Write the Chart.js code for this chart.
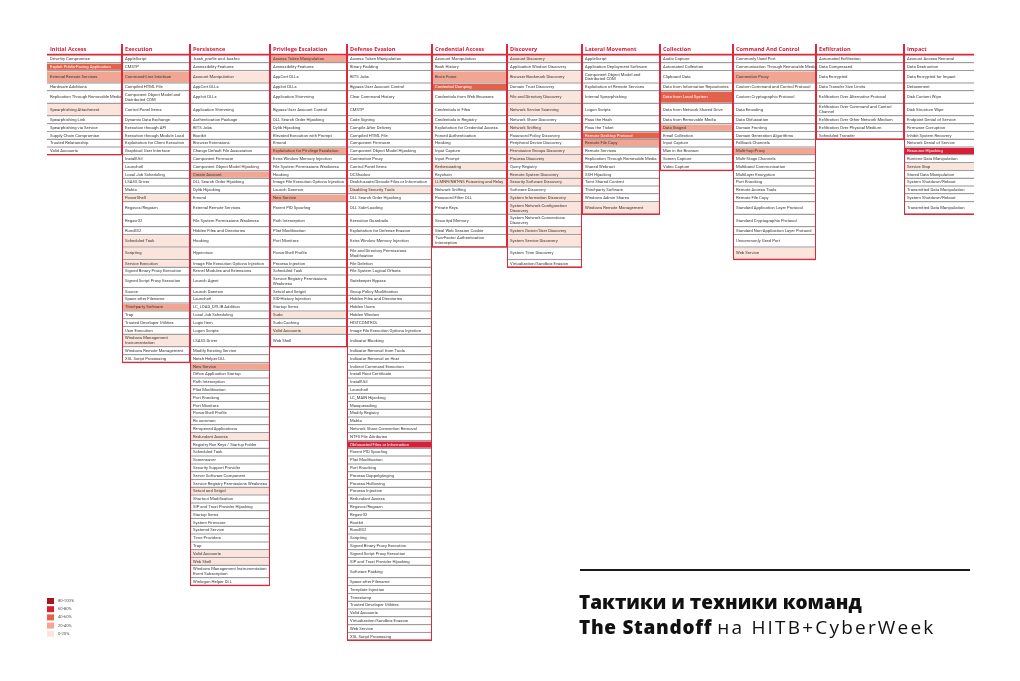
<!DOCTYPE html>
<html>
<head>
<meta charset="utf-8">
<script src="https://cdn.jsdelivr.net/npm/chart.js@4.4.1/dist/chart.umd.min.js"></script>
<style>
    html, body { margin: 0; padding: 0; background: #fff; }
    #wrap { position: relative; width: 1020px; height: 681px; }
    #matrix { position: absolute; left: 0; top: 0; }
    .rule { position: absolute; left: 580px; top: 569px; width: 390px; height: 2px; background: #1a1a1a; }
    .title { position: absolute; left: 579px; top: 590px; font-family: 'Open Sans', sans-serif; font-size: 19px; line-height: 25px; color: #111; white-space: nowrap; }
    .title b { font-weight: 800; }
    .title .l2b { letter-spacing: 0.7px; }
    .title .l2 { letter-spacing: 2.2px; }
</style>
</head>
<body>
<div id="wrap">
    <canvas id="matrix" width="1020" height="681"></canvas>
    <div class="rule"></div>
    <div class="title"><b>Тактики и техники команд</b><br><b class="l2b">The Standoff</b> <span class="l2">на HITB+CyberWeek</span></div>
</div>
<script>
// Tactics (column headers)
const tactics = ['Initial Access', 'Execution', 'Persistence', 'Privilege Escalation', 'Defense Evasion',
    'Credential Access', 'Discovery', 'Lateral Movement', 'Collection', 'Command And Control', 'Exfiltration', 'Impact'];

// Techniques per tactic ('\n' marks a two-line label)
const initialAccess = ['Drive-by Compromise', 'Exploit Public-Facing Application', 'External Remote Services',
    'Hardware Additions', 'Replication Through Removable Media', 'Spearphishing Attachment', 'Spearphishing Link',
    'Spearphishing via Service', 'Supply Chain Compromise', 'Trusted Relationship', 'Valid Accounts'];
const initialAccessLevel = [0, 3, 2, 0, 0, 1, 0, 0, 0, 0, 0];

const execution = ['AppleScript', 'CMSTP', 'Command-Line Interface', 'Compiled HTML File',
    'Component Object Model and\nDistributed COM', 'Control Panel Items', 'Dynamic Data Exchange',
    'Execution through API', 'Execution through Module Load', 'Exploitation for Client Execution',
    'Graphical User Interface', 'InstallUtil', 'Launchctl', 'Local Job Scheduling', 'LSASS Driver', 'Mshta',
    'PowerShell', 'Regsvcs/Regasm', 'Regsvr32', 'Rundll32', 'Scheduled Task', 'Scripting', 'Service Execution',
    'Signed Binary Proxy Execution', 'Signed Script Proxy Execution', 'Source', 'Space after Filename',
    'Third-party Software', 'Trap', 'Trusted Developer Utilities', 'User Execution',
    'Windows Management\nInstrumentation', 'Windows Remote Management', 'XSL Script Processing'];
const executionLevel = [0, 0, 2, 0, 0, 0, 0, 0, 0, 0, 0, 0, 0, 0, 0, 0, 1, 0, 0, 0, 1, 1, 1, 0, 0, 0, 0, 2, 0, 0, 0, 1, 0, 0];

const persistence = ['.bash_profile and .bashrc', 'Accessibility Features', 'Account Manipulation', 'AppCert DLLs',
    'AppInit DLLs', 'Application Shimming', 'Authentication Package', 'BITS Jobs', 'Bootkit', 'Browser Extensions',
    'Change Default File Association', 'Component Firmware', 'Component Object Model Hijacking', 'Create Account',
    'DLL Search Order Hijacking', 'Dylib Hijacking', 'Emond', 'External Remote Services',
    'File System Permissions Weakness', 'Hidden Files and Directories', 'Hooking', 'Hypervisor',
    'Image File Execution Options Injection', 'Kernel Modules and Extensions', 'Launch Agent', 'Launch Daemon',
    'Launchctl', 'LC_LOAD_DYLIB Addition', 'Local Job Scheduling', 'Login Item', 'Logon Scripts', 'LSASS Driver',
    'Modify Existing Service', 'Netsh Helper DLL', 'New Service', 'Office Application Startup', 'Path Interception',
    'Plist Modification', 'Port Knocking', 'Port Monitors', 'PowerShell Profile', 'Rc.common',
    'Re-opened Applications', 'Redundant Access', 'Registry Run Keys / Startup Folder', 'Scheduled Task',
    'Screensaver', 'Security Support Provider', 'Server Software Component',
    'Service Registry Permissions Weakness', 'Setuid and Setgid', 'Shortcut Modification',
    'SIP and Trust Provider Hijacking', 'Startup Items', 'System Firmware', 'Systemd Service', 'Time Providers',
    'Trap', 'Valid Accounts', 'Web Shell', 'Windows Management Instrumentation\nEvent Subscription',
    'Winlogon Helper DLL'];
const persistenceLevel = [0, 0, 1, 0, 0, 0, 0, 0, 0, 0, 0, 0, 0, 2, 0, 0, 0, 0, 0, 0,
    0, 0, 0, 0, 0, 0, 0, 0, 0, 0, 0, 0, 0, 0, 2, 0, 0, 0, 0, 0,
    0, 0, 0, 1, 0, 0, 0, 0, 0, 0, 1, 0, 0, 0, 0, 0, 0, 0, 1, 1, 0, 0];

const privilegeEscalation = ['Access Token Manipulation', 'Accessibility Features', 'AppCert DLLs', 'AppInit DLLs',
    'Application Shimming', 'Bypass User Account Control', 'DLL Search Order Hijacking', 'Dylib Hijacking',
    'Elevated Execution with Prompt', 'Emond', 'Exploitation for Privilege Escalation',
    'Extra Window Memory Injection', 'File System Permissions Weakness', 'Hooking',
    'Image File Execution Options Injection', 'Launch Daemon', 'New Service', 'Parent PID Spoofing',
    'Path Interception', 'Plist Modification', 'Port Monitors', 'PowerShell Profile', 'Process Injection',
    'Scheduled Task', 'Service Registry Permissions\nWeakness', 'Setuid and Setgid', 'SID-History Injection',
    'Startup Items', 'Sudo', 'Sudo Caching', 'Valid Accounts', 'Web Shell'];
const privilegeEscalationLevel = [2, 0, 0, 0, 0, 0, 0, 0, 0, 0, 2, 0, 0, 0, 0, 0, 2, 0, 0, 0,
    0, 0, 0, 0, 0, 0, 0, 0, 1, 0, 1, 0];

const defenseEvasion = ['Access Token Manipulation', 'Binary Padding', 'BITS Jobs', 'Bypass User Account Control',
    'Clear Command History', 'CMSTP', 'Code Signing', 'Compile After Delivery', 'Compiled HTML File',
    'Component Firmware', 'Component Object Model Hijacking', 'Connection Proxy', 'Control Panel Items', 'DCShadow',
    'Deobfuscate/Decode Files or Information', 'Disabling Security Tools', 'DLL Search Order Hijacking',
    'DLL Side-Loading', 'Execution Guardrails', 'Exploitation for Defense Evasion', 'Extra Window Memory Injection',
    'File and Directory Permissions\nModification', 'File Deletion', 'File System Logical Offsets',
    'Gatekeeper Bypass', 'Group Policy Modification', 'Hidden Files and Directories', 'Hidden Users',
    'Hidden Window', 'HISTCONTROL', 'Image File Execution Options Injection', 'Indicator Blocking',
    'Indicator Removal from Tools', 'Indicator Removal on Host', 'Indirect Command Execution',
    'Install Root Certificate', 'InstallUtil', 'Launchctl', 'LC_MAIN Hijacking', 'Masquerading', 'Modify Registry',
    'Mshta', 'Network Share Connection Removal', 'NTFS File Attributes', 'Obfuscated Files or Information',
    'Parent PID Spoofing', 'Plist Modification', 'Port Knocking', 'Process Doppelgänging', 'Process Hollowing',
    'Process Injection', 'Redundant Access', 'Regsvcs/Regasm', 'Regsvr32', 'Rootkit', 'Rundll32', 'Scripting',
    'Signed Binary Proxy Execution', 'Signed Script Proxy Execution', 'SIP and Trust Provider Hijacking',
    'Software Packing', 'Space after Filename', 'Template Injection', 'Timestomp', 'Trusted Developer Utilities',
    'Valid Accounts', 'Virtualization/Sandbox Evasion', 'Web Service', 'XSL Script Processing'];
const defenseEvasionLevel = [0, 0, 0, 0, 0, 0, 0, 0, 0, 0, 0, 0, 0, 0, 0, 1, 0, 0, 0, 0,
    0, 0, 0, 0, 0, 0, 0, 0, 0, 0, 0, 0, 0, 0, 0, 0, 0, 0, 0, 0,
    0, 0, 0, 0, 4, 0, 0, 0, 0, 0, 0, 0, 0, 0, 0, 0, 0, 0, 0, 0,
    0, 0, 0, 0, 0, 0, 0, 0, 0];

const credentialAccess = ['Account Manipulation', 'Bash History', 'Brute Force', 'Credential Dumping',
    'Credentials from Web Browsers', 'Credentials in Files', 'Credentials in Registry',
    'Exploitation for Credential Access', 'Forced Authentication', 'Hooking', 'Input Capture', 'Input Prompt',
    'Kerberoasting', 'Keychain', 'LLMNR/NBT-NS Poisoning and Relay', 'Network Sniffing', 'Password Filter DLL',
    'Private Keys', 'Securityd Memory', 'Steal Web Session Cookie', 'Two-Factor Authentication\nInterception'];
const credentialAccessLevel = [0, 0, 2, 3, 0, 0, 0, 0, 0, 0, 0, 0, 1, 0, 1, 0, 0, 0, 0, 0, 0];

const discovery = ['Account Discovery', 'Application Window Discovery', 'Browser Bookmark Discovery',
    'Domain Trust Discovery', 'File and Directory Discovery', 'Network Service Scanning', 'Network Share Discovery',
    'Network Sniffing', 'Password Policy Discovery', 'Peripheral Device Discovery', 'Permission Groups Discovery',
    'Process Discovery', 'Query Registry', 'Remote System Discovery', 'Security Software Discovery',
    'Software Discovery', 'System Information Discovery', 'System Network Configuration\nDiscovery',
    'System Network Connections\nDiscovery', 'System Owner/User Discovery', 'System Service Discovery',
    'System Time Discovery', 'Virtualization/Sandbox Evasion'];
const discoveryLevel = [1, 0, 1, 0, 1, 1, 0, 1, 0, 0, 1, 1, 0, 1, 1, 0, 1, 1, 0, 1, 1, 0, 0];

const lateralMovement = ['AppleScript', 'Application Deployment Software', 'Component Object Model and\nDistributed COM',
    'Exploitation of Remote Services', 'Internal Spearphishing', 'Logon Scripts', 'Pass the Hash', 'Pass the Ticket',
    'Remote Desktop Protocol', 'Remote File Copy', 'Remote Services', 'Replication Through Removable Media',
    'Shared Webroot', 'SSH Hijacking', 'Taint Shared Content', 'Third-party Software', 'Windows Admin Shares',
    'Windows Remote Management'];
const lateralMovementLevel = [0, 0, 0, 0, 0, 0, 0, 0, 3, 2, 0, 0, 0, 0, 0, 0, 0, 1];

const collection = ['Audio Capture', 'Automated Collection', 'Clipboard Data', 'Data from Information Repositories',
    'Data from Local System', 'Data from Network Shared Drive', 'Data from Removable Media', 'Data Staged',
    'Email Collection', 'Input Capture', 'Man in the Browser', 'Screen Capture', 'Video Capture'];
const collectionLevel = [0, 0, 0, 0, 3, 0, 0, 2, 0, 0, 0, 0, 0];

const commandAndControl = ['Commonly Used Port', 'Communication Through Removable Media', 'Connection Proxy',
    'Custom Command and Control Protocol', 'Custom Cryptographic Protocol', 'Data Encoding', 'Data Obfuscation',
    'Domain Fronting', 'Domain Generation Algorithms', 'Fallback Channels', 'Multi-hop Proxy',
    'Multi-Stage Channels', 'Multiband Communication', 'Multilayer Encryption', 'Port Knocking',
    'Remote Access Tools', 'Remote File Copy', 'Standard Application Layer Protocol',
    'Standard Cryptographic Protocol', 'Standard Non-Application Layer Protocol', 'Uncommonly Used Port',
    'Web Service'];
const commandAndControlLevel = [0, 0, 2, 0, 0, 0, 0, 0, 0, 0, 2, 0, 0, 0, 0, 0, 0, 0, 0, 0, 0, 1];

const exfiltration = ['Automated Exfiltration', 'Data Compressed', 'Data Encrypted', 'Data Transfer Size Limits',
    'Exfiltration Over Alternative Protocol', 'Exfiltration Over Command and Control\nChannel',
    'Exfiltration Over Other Network Medium', 'Exfiltration Over Physical Medium', 'Scheduled Transfer'];
const exfiltrationLevel = [0, 0, 0, 0, 0, 0, 0, 0, 0];

const impact = ['Account Access Removal', 'Data Destruction', 'Data Encrypted for Impact', 'Defacement',
    'Disk Content Wipe', 'Disk Structure Wipe', 'Endpoint Denial of Service', 'Firmware Corruption',
    'Inhibit System Recovery', 'Network Denial of Service', 'Resource Hijacking', 'Runtime Data Manipulation',
    'Service Stop', 'Stored Data Manipulation', 'System Shutdown/Reboot', 'Transmitted Data Manipulation',
    'System Shutdown/Reboot', 'Transmitted Data Manipulation'];
const impactLevel = [0, 0, 0, 0, 0, 0, 0, 0, 0, 0, 4, 0, 1, 0, 0, 0, 0, 0];

// Legend buckets, from darkest to lightest
const legendLabels = ['80-100%', '60-80%', '40-60%', '20-40%', '0-20%'];

// Styling / layout
const levelColors = ['#ffffff', '#fbe4dc', '#f1a593', '#e2624c', '#d81f37', '#a3171c'];
const RED = '#dc2a3c';
const COL_WIDTHS = [75, 68, 80, 77, 85, 75, 75, 78, 73, 83, 88, 70];
const HEADER_UNITS = 1.5;
const EXTRA_LINE_UNITS = 0.6;

const techniqueLists = [initialAccess, execution, persistence, privilegeEscalation, defenseEvasion,
    credentialAccess, discovery, lateralMovement, collection, commandAndControl, exfiltration, impact];
const levelLists = [initialAccessLevel, executionLevel, persistenceLevel, privilegeEscalationLevel,
    defenseEvasionLevel, credentialAccessLevel, discoveryLevel, lateralMovementLevel, collectionLevel,
    commandAndControlLevel, exfiltrationLevel, impactLevel];

// Rows line up across all columns; a row grows when any of its labels has two lines
const rowCount = Math.max(...techniqueLists.map(l => l.length));
const rowTops = [0];
for (let r = 0; r < rowCount; r++) {
    let lines = 1;
    techniqueLists.forEach(list => {
        if (list[r]) lines = Math.max(lines, list[r].split('\n').length);
    });
    rowTops.push(rowTops[r] + 1 + EXTRA_LINE_UNITS * (lines - 1));
}

const colLefts = [0];
COL_WIDTHS.forEach((w, i) => colLefts.push(colLefts[i] + w));

// Bar width in pixels = column span on the x scale
function columnThickness(i) {
    return function(ctx) {
        const x = ctx.chart.scales.x;
        const px = x ? x.getPixelForValue(colLefts[i + 1]) - x.getPixelForValue(colLefts[i]) : NaN;
        return isFinite(px) && px > 0 ? px : COL_WIDTHS[i];
    };
}

// One dataset per tactic: header, technique cells, then the red frame on top
const lastCol = tactics.length - 1;
const datasets = tactics.map((tactic, i) => {
    const list = techniqueLists[i];
    const levels = levelLists[i];
    const center = colLefts[i] + COL_WIDTHS[i] / 2;
    const data = [{ x: center, y: [-HEADER_UNITS, 0], role: 'head', text: tactic, level: 0 }];
    list.forEach((t, r) => {
        data.push({ x: center, y: [rowTops[r], rowTops[r + 1]], role: 'cell', text: t, level: levels[r] || 0 });
    });
    data.push({ x: center, y: [-HEADER_UNITS, rowTops[list.length]], role: 'frame', text: '', level: 0 });
    return {
        label: tactic,
        data: data,
        grouped: false,
        barThickness: columnThickness(i),
        inflateAmount: 0,
        borderSkipped: false,
        backgroundColor: ctx => ctx.raw && ctx.raw.role === 'cell' ? levelColors[ctx.raw.level] : 'rgba(0,0,0,0)',
        borderColor: ctx => ctx.raw && ctx.raw.role === 'cell' ? '#9e9e9e' : RED,
        borderWidth: ctx => {
            const role = ctx.raw && ctx.raw.role;
            if (role === 'head') return { top: 0, left: 0, right: 0, bottom: 2 };
            // separator lines only between neighbouring columns
            if (role === 'frame') return { top: 0, left: i > 0 ? 1 : 0, right: i < lastCol ? 1 : 0, bottom: 1.5 };
            return { top: 0, left: 0, right: 0, bottom: 1.5 };
        }
    };
});

// Draw header and technique names inside their bars
const cellTextPlugin = {
    id: 'cellText',
    afterDatasetsDraw(chart) {
        const ctx = chart.ctx;
        ctx.save();
        ctx.textBaseline = 'middle';
        ctx.textAlign = 'left';
        chart.data.datasets.forEach((ds, di) => {
            const meta = chart.getDatasetMeta(di);
            meta.data.forEach((bar, j) => {
                const d = ds.data[j];
                if (!d.text) return;
                const { x, y, base, width } = bar.getProps(['x', 'y', 'base', 'width'], true);
                const left = x - width / 2 + 3;
                const top = Math.min(y, base);
                const bottom = Math.max(y, base);
                if (d.role === 'head') {
                    ctx.font = 'bold 5.6px "Open Sans"';
                    ctx.fillStyle = '#d4203a';
                    ctx.fillText(d.text, left, (top + bottom) / 2 - 0.5);
                    return;
                }
                ctx.font = '4.2px Roboto';
                ctx.fillStyle = d.level >= 3 ? '#ffffff' : '#3a3a3a';
                const lines = d.text.split('\n');
                const mid = (top + bottom) / 2 - 0.6;
                const lh = 4.8;
                lines.forEach((line, k) => {
                    ctx.fillText(line, left, mid + (k - (lines.length - 1) / 2) * lh);
                });
            });
        });
        ctx.restore();
    }
};

// Small colour key in the bottom-left corner
const legendPlugin = {
    id: 'bucketLegend',
    afterDraw(chart) {
        const ctx = chart.ctx;
        ctx.save();
        ctx.textBaseline = 'middle';
        ctx.font = '4.2px Roboto';
        legendLabels.forEach((label, k) => {
            const y = 598 + k * 8.2;
            ctx.fillStyle = levelColors[5 - k];
            ctx.fillRect(47, y, 7, 6);
            ctx.fillStyle = '#555';
            ctx.fillText(label, 58, y + 3);
        });
        ctx.restore();
    }
};

new Chart(document.getElementById('matrix'), {
    type: 'bar',
    data: { datasets: datasets },
    options: {
        responsive: false,
        animation: false,
        devicePixelRatio: 1,
        layout: { padding: { left: 47, right: 46, top: 44, bottom: 40 } },
        plugins: {
            legend: { display: false },
            tooltip: { enabled: false },
            title: { display: false }
        },
        scales: {
            x: {
                type: 'linear',
                display: false,
                min: 0,
                max: colLefts[colLefts.length - 1],
                offset: false
            },
            y: {
                type: 'linear',
                display: false,
                reverse: true,
                min: -HEADER_UNITS,
                max: rowTops[rowCount]
            }
        }
    },
    plugins: [cellTextPlugin, legendPlugin]
});
</script>
</body>
</html>
